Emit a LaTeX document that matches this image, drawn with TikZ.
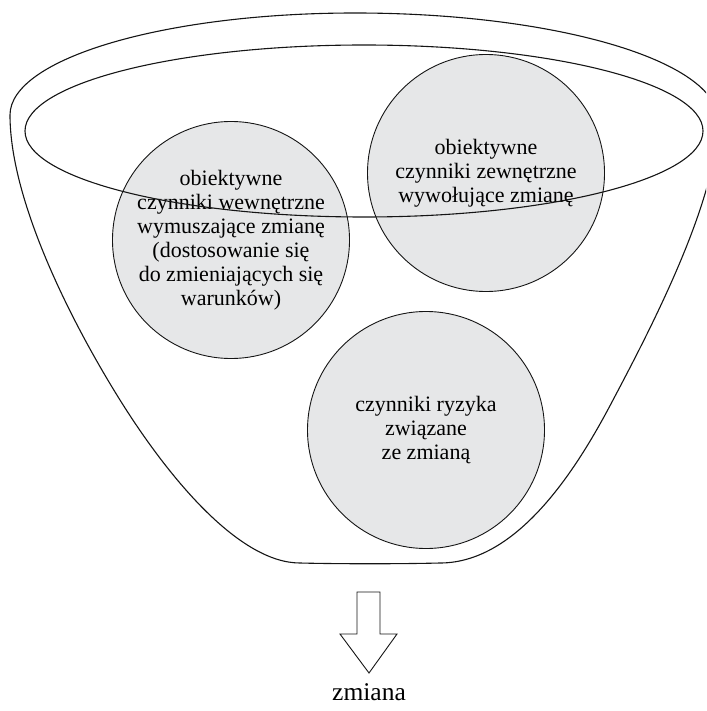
\documentclass[tikz,border=0pt]{standalone}
\usepackage{fontspec}
\setmainfont{Liberation Serif}
\definecolor{discfill}{HTML}{E6E7E8}
\definecolor{inkline}{HTML}{151515}
\tikzset{
  outline/.style={draw=inkline, line width=1.1pt},
  disc/.style={circle, draw=inkline, line width=0.9pt, fill=discfill,
    minimum size=237pt, inner sep=0pt, align=center,
    font=\fontsize{22}{24}\selectfont, text=black},
  caption/.style={font=\fontsize{25.5}{28}\selectfont, text=black, inner sep=0pt, anchor=base}
}
\begin{document}
\begin{tikzpicture}[x=1pt, y=-1pt]
  \useasboundingbox (0,0) rectangle (706,711);
  \clip (0,0) rectangle (706,711);

  % funnel / bowl outline: elliptic top, tapering sides, flat bottom
  \draw[outline]
    (10,115) arc [start angle=180, end angle=270, x radius=345, y radius=102]
             arc [start angle=270, end angle=360, x radius=363, y radius=107]
    .. controls (718,200) and (650,330) .. (613,400)
    .. controls (580,463) and (520,563) .. (440,563)
    .. controls (400,564) and (340,564) .. (300,563)
    .. controls (240,563) and (170,480) .. (120,400)
    .. controls (70,320) and (10,200) .. (10,115) -- cycle;

  % factor discs
  \node[disc] (inner) at (231,240)
    {obiektywne\\czynniki wewnętrzne\\wymuszające zmianę\\(dostosowanie się\\do zmieniających się\\warunków)};
  \node[disc] (outer) at (486,173)
    {obiektywne\\czynniki zewnętrzne\\wywołujące zmianę};
  \node[disc] (risk) at (426,430)
    {czynniki ryzyka\\związane\\ze zmianą};

  % rim of the funnel
  \draw[outline] (364,131) ellipse [x radius=339, y radius=86];

  % outflow arrow and its label
  \draw[outline, line width=0.9pt, line join=miter]
    (357,592) -- (380,592) -- (380,634) -- (397,634) -- (369,673)
    -- (340,634) -- (357,634) -- cycle;
  \node[caption] (result) at (369,700) {zmiana};
\end{tikzpicture}
\end{document}
